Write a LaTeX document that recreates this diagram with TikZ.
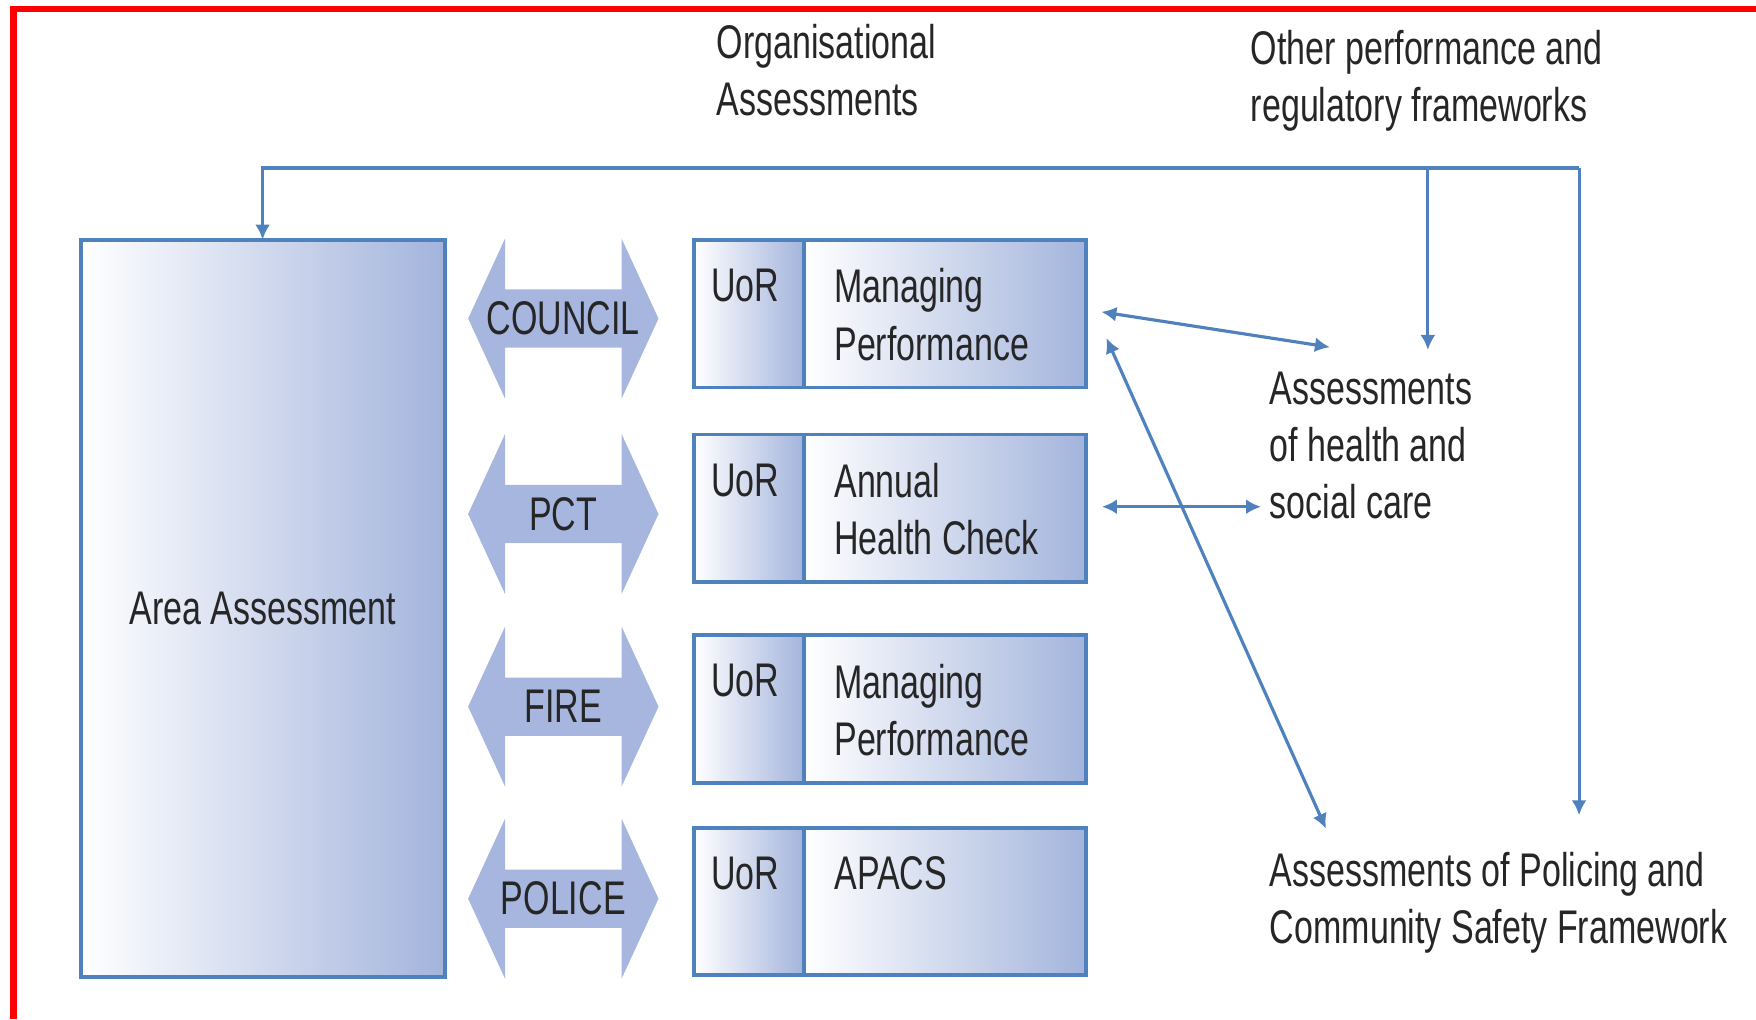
\documentclass[tikz,border=0pt]{standalone}
\usepackage{fontspec}
\setmainfont{Liberation Sans}[FakeStretch=0.72]
\usetikzlibrary{arrows.meta,positioning,calc}
\definecolor{edgeblue}{RGB}{79,129,189}
\definecolor{fillblue}{RGB}{163,180,220}
\definecolor{fatblue}{RGB}{166,182,222}

\begin{document}
\begin{tikzpicture}[>={Latex[length=3.8pt,width=3.8pt]},
  every node/.style={font=\fontsize{12}{14.5}\selectfont,inner sep=0,outer sep=0,text=black!85},
  panel/.style={draw=edgeblue,line width=1pt,shading=axis,left color=white,right color=fillblue},
  link/.style={edgeblue,line width=.8pt}]
  \useasboundingbox (0,0) rectangle (15.68,9.10);
  \draw[red,line width=1.6pt] (15.68,9.02) -- (0.12,9.02) -- (0.12,0);

  \node[panel,minimum width=3.25cm,minimum height=6.58cm] (area) at (2.345,3.67) {Area Assessment};

  % fat two-way arrows between the area box and the units
  \foreach \lab/\y [count=\i] in {COUNCIL/6.255,PCT/4.51,FIRE/2.79,POLICE/1.075} {
    \fill[fatblue] (4.18,\y) -- (4.51,\y+.715) -- (4.51,\y+.26) -- (5.55,\y+.26) -- (5.55,\y+.715)
      -- (5.88,\y) -- (5.55,\y-.715) -- (5.55,\y-.26) -- (4.51,\y-.26) -- (4.51,\y-.715) -- cycle;
    \node (unit\i) at (5.03,\y) {\lab};
  }

  \foreach \yy/\what [count=\i] in {6.96/{Managing\\Performance},5.22/{Annual\\Health Check},
                                    3.43/{Managing\\Performance},1.71/{APACS}} {
    \node[panel,anchor=north west,minimum width=.98cm,minimum height=1.32cm] (uor\i) at (6.20,\yy) {};
    \node[panel,anchor=north west,minimum width=2.52cm,minimum height=1.32cm] (org\i) at (uor\i.north east) {};
    \node[anchor=north west] (uorlab\i) at ($(uor\i.north west)+(.15,-.26)$) {UoR};
    \node[anchor=north west,align=left] (orglab\i) at ($(org\i.north west)+(.27,-.26)$) {\what};
  }

  \node[anchor=north west,align=left] (orgtitle) at (6.40,8.88) {Organisational\\Assessments};
  \node[anchor=north west,align=left] (othertitle) at (11.17,8.83) {Other performance and\\regulatory frameworks};
  \node[anchor=north west,align=left] (health) at (11.34,5.78) {Assessments\\of health and\\social care};
  \node[anchor=north west,align=left] (policing) at (11.34,1.49) {Assessments of Policing and\\Community Safety Framework};

  \coordinate (branch) at (12.75,7.60);
  \coordinate (hub) at (14.10,7.60);
  \coordinate (branchtip) at (12.75,5.975);
  \coordinate (hubtip) at (14.10,1.82);
  \draw[link,->] (hub) -- (area.north |- hub) -- (area.north);
  \draw[link,->] (branch) -- (branchtip);
  \draw[link,->] (hub) -- (hubtip);

  \coordinate (p1) at ($(org1.east)+(.135,.015)$);
  \coordinate (p2) at ($(org1.east)+(.18,-.22)$);
  \coordinate (p3) at ($(org2.east)+(.14,.015)$);
  \coordinate (h1) at ($(health.north west)+(.535,.22)$);
  \coordinate (h2) at ($(health.west |- p3)+(-.08,0)$);
  \coordinate (s1) at ($(policing.north west)+(.50,.21)$);
  \draw[link,<->] (p1) -- (h1);
  \draw[link,<->] (p2) -- (s1);
  \draw[link,<->] (p3) -- (h2);
\end{tikzpicture}
\end{document}
